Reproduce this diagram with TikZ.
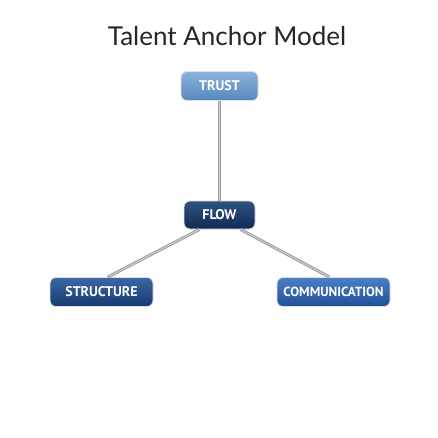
\documentclass[tikz,border=0pt]{standalone}
\usepackage{fontspec}
\setmainfont{PT Sans}
\newfontfamily\titlefont{Lato}
\definecolor{lightA}{HTML}{8DB4DC}
\definecolor{lightB}{HTML}{5587BD}
\definecolor{navyA}{HTML}{2E5283}
\definecolor{navyB}{HTML}{112B52}
\definecolor{darkA}{HTML}{3A67A6}
\definecolor{darkB}{HTML}{16396E}
\definecolor{midA}{HTML}{4C7FC4}
\definecolor{midB}{HTML}{1F4F98}
\definecolor{linkgray}{HTML}{9A9EA3}
\definecolor{linklight}{HTML}{D0D2D5}
\tikzset{
  box/.style={rounded corners=6pt, minimum height=29pt, inner sep=0pt,
    text=white, font=\fontsize{14}{16}\selectfont\bfseries,
    draw=white!75!gray, line width=0.8pt},
  link/.style={draw=linkgray, line width=3pt},
  linkcore/.style={draw=linklight, line width=0.9pt},
}
\begin{document}
\begin{tikzpicture}[x=1pt,y=-1pt]
\fill[white] (0,0) rectangle (438,438);
\useasboundingbox (0,0) rectangle (438,438);
\node[font=\titlefont\fontsize{26}{30}\selectfont, text=black!85] (title) at (227,36) {Talent Anchor Model};
\node[box, minimum width=77pt, top color=lightA, bottom color=lightB] (trust) at (219.5,86) {TRUST};
\node[box, minimum width=71pt, minimum height=28pt, top color=navyA, bottom color=navyB] (flow) at (219.5,215) {FLOW};
\node[box, minimum width=103pt, top color=darkA, bottom color=darkB] (structure) at (101.5,292) {STRUCTURE};
\node[box, minimum width=113pt, top color=midA, bottom color=midB, font=\fontsize{13.2}{15}\selectfont\bfseries] (comm) at (333.5,292) {COMMUNICATION};
\draw[link] (trust.south) -- (flow.north);
\draw[linkcore] (trust.south) -- (flow.north);
\draw[link] ([xshift=16pt]flow.south west) -- ([xshift=58pt]structure.north west);
\draw[linkcore] ([xshift=16pt]flow.south west) -- ([xshift=58pt]structure.north west);
\draw[link] ([xshift=-15pt]flow.south east) -- ([xshift=53pt]comm.north west);
\draw[linkcore] ([xshift=-15pt]flow.south east) -- ([xshift=53pt]comm.north west);
\end{tikzpicture}
\end{document}
